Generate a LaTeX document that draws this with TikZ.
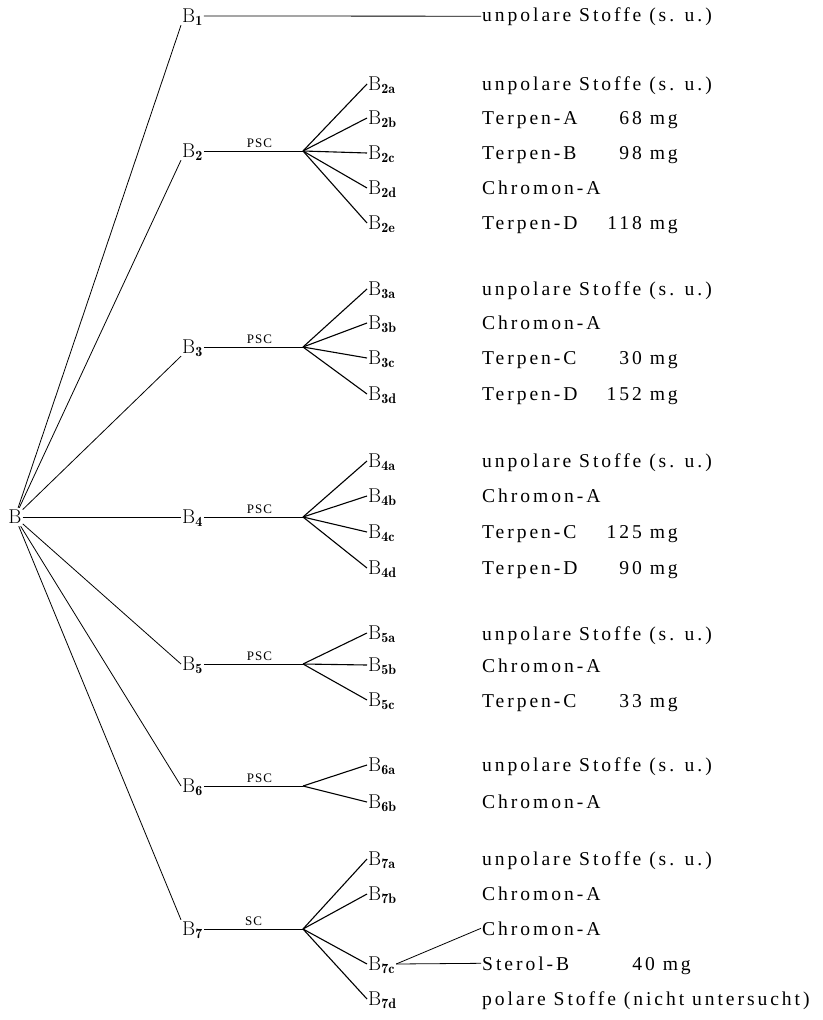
\documentclass[tikz,border=0pt]{standalone}
\usepackage{fontspec}
\newfontfamily\rowfont[LetterSpace=15]{Liberation Serif}
\newfontfamily\methfont[LetterSpace=8]{Liberation Serif}
\newcommand\Bl[1]{$\mathrm{B}_{\mathbf{#1}}$}
\begin{document}
\begin{tikzpicture}[x=1pt,y=-1pt,
  blab/.style={inner sep=1pt, anchor=west, font=\fontsize{20}{24}\selectfont, text height=14pt, text depth=2pt},
  txt/.style={inner sep=1pt, anchor=base west, font=\rowfont\fontsize{19.6}{22}\selectfont},
  amt/.style={inner sep=0pt, anchor=base east, font=\rowfont\fontsize{19.6}{22}\selectfont},
  trunk/.style={line width=0.8pt},
  twig/.style={line width=1.1pt},
  meth/.style={above, inner sep=3pt, font=\methfont\fontsize{13}{15}\selectfont}]
\fill[white] (0,0) rectangle (822,1020);
\useasboundingbox (0,0) rectangle (822,1020);

% root
\node[blab, anchor=center] (B) at (15,517) {B};

% first-level fractions
\node[blab] (b1) at (181,16)  {\Bl{1}};
\node[blab] (b2) at (181,151) {\Bl{2}};
\node[blab] (b3) at (181,347) {\Bl{3}};
\node[blab] (b4) at (181,517) {\Bl{4}};
\node[blab] (b5) at (181,664) {\Bl{5}};
\node[blab] (b6) at (181,786) {\Bl{6}};
\node[blab] (b7) at (181,929) {\Bl{7}};

\draw[trunk] (B) -- (b1.south west);
\draw[trunk] (B) -- (b2.south west);
\draw[trunk] (B) -- (b3.south west);
\draw[trunk] (B) -- (b4.west);
\draw[trunk] (B) -- (b5.west);
\draw[trunk] (B) -- (b6.west);
\draw[trunk] (B) -- (b7.north west);

% B1
\node[txt] (t1) at (481,21) {unpolare Stoffe (s. u.)};
\draw[trunk] (b1.east) -- (t1.west);

% branching points of the column separations
\coordinate (f2) at (303,151);
\coordinate (f3) at (303,347);
\coordinate (f4) at (303,517);
\coordinate (f5) at (303,664);
\coordinate (f6) at (303,786);
\coordinate (f7) at (303,929);

\draw[trunk] (b2.east) -- node[meth, xshift=6pt] (m2) {PSC} (f2);
\draw[trunk] (b3.east) -- node[meth, xshift=6pt] (m3) {PSC} (f3);
\draw[trunk] (b4.east) -- node[meth, xshift=6pt] (m4) {PSC} (f4);
\draw[trunk] (b5.east) -- node[meth, xshift=6pt] (m5) {PSC} (f5);
\draw[trunk] (b6.east) -- node[meth, xshift=6pt] (m6) {PSC} (f6);
\draw[trunk] (b7.east) -- node[meth] (m7) {SC} (f7);

% B2 sub-fractions
\node[blab] (b2a) at (367,84)  {\Bl{2a}};
\node[blab] (b2b) at (367,118) {\Bl{2b}};
\node[blab] (b2c) at (367,153) {\Bl{2c}};
\node[blab] (b2d) at (367,188) {\Bl{2d}};
\node[blab] (b2e) at (367,223) {\Bl{2e}};
\foreach \s in {a,b,c,d,e} \draw[twig] (f2) -- (b2\s.west);
\node[txt] (t2a) at (481,90)  {unpolare Stoffe (s. u.)};
\node[txt] (t2b) at (481,124) {Terpen-A};
\node[amt] (q2b) at (678,124) {68 mg};
\node[txt] (t2c) at (481,159) {Terpen-B};
\node[amt] (q2c) at (678,159) {98 mg};
\node[txt] (t2d) at (481,194) {Chromon-A};
\node[txt] (t2e) at (481,229) {Terpen-D};
\node[amt] (q2e) at (678,229) {118 mg};

% B3 sub-fractions
\node[blab] (b3a) at (367,289) {\Bl{3a}};
\node[blab] (b3b) at (367,323) {\Bl{3b}};
\node[blab] (b3c) at (367,358) {\Bl{3c}};
\node[blab] (b3d) at (367,394) {\Bl{3d}};
\foreach \s in {a,b,c,d} \draw[twig] (f3) -- (b3\s.west);
\node[txt] (t3a) at (481,295) {unpolare Stoffe (s. u.)};
\node[txt] (t3b) at (481,329) {Chromon-A};
\node[txt] (t3c) at (481,364) {Terpen-C};
\node[amt] (q3c) at (678,364) {30 mg};
\node[txt] (t3d) at (481,400) {Terpen-D};
\node[amt] (q3d) at (678,400) {152 mg};

% B4 sub-fractions
\node[blab] (b4a) at (367,461) {\Bl{4a}};
\node[blab] (b4b) at (367,496) {\Bl{4b}};
\node[blab] (b4c) at (367,532) {\Bl{4c}};
\node[blab] (b4d) at (367,568) {\Bl{4d}};
\foreach \s in {a,b,c,d} \draw[twig] (f4) -- (b4\s.west);
\node[txt] (t4a) at (481,467) {unpolare Stoffe (s. u.)};
\node[txt] (t4b) at (481,502) {Chromon-A};
\node[txt] (t4c) at (481,538) {Terpen-C};
\node[amt] (q4c) at (678,538) {125 mg};
\node[txt] (t4d) at (481,574) {Terpen-D};
\node[amt] (q4d) at (678,574) {90 mg};

% B5 sub-fractions
\node[blab] (b5a) at (367,633) {\Bl{5a}};
\node[blab] (b5b) at (367,665) {\Bl{5b}};
\node[blab] (b5c) at (367,700) {\Bl{5c}};
\foreach \s in {a,b,c} \draw[twig] (f5) -- (b5\s.west);
\node[txt] (t5a) at (481,640) {unpolare Stoffe (s. u.)};
\node[txt] (t5b) at (481,672) {Chromon-A};
\node[txt] (t5c) at (481,707) {Terpen-C};
\node[amt] (q5c) at (678,707) {33 mg};

% B6 sub-fractions
\node[blab] (b6a) at (367,765) {\Bl{6a}};
\node[blab] (b6b) at (367,802) {\Bl{6b}};
\foreach \s in {a,b} \draw[twig] (f6) -- (b6\s.west);
\node[txt] (t6a) at (481,771) {unpolare Stoffe (s. u.)};
\node[txt] (t6b) at (481,808) {Chromon-A};

% B7 sub-fractions
\node[blab] (b7a) at (367,859) {\Bl{7a}};
\node[blab] (b7b) at (367,894) {\Bl{7b}};
\node[blab] (b7c) at (367,964) {\Bl{7c}};
\node[blab] (b7d) at (367,999) {\Bl{7d}};
\foreach \s in {a,b,c,d} \draw[twig] (f7) -- (b7\s.west);
\node[txt] (t7a) at (481,865)  {unpolare Stoffe (s. u.)};
\node[txt] (t7b) at (481,900)  {Chromon-A};
\node[txt] (t7c1) at (481,935) {Chromon-A};
\node[txt] (t7c2) at (481,970) {Sterol-B};
\node[amt] (q7c) at (691,970)  {40 mg};
\node[txt] (t7d) at (481,1005) {polare Stoffe (nicht untersucht)};
\draw[trunk] (b7c.east) -- (t7c1.west);
\draw[trunk] (b7c.east) -- (t7c2.west);
\end{tikzpicture}
\end{document}
